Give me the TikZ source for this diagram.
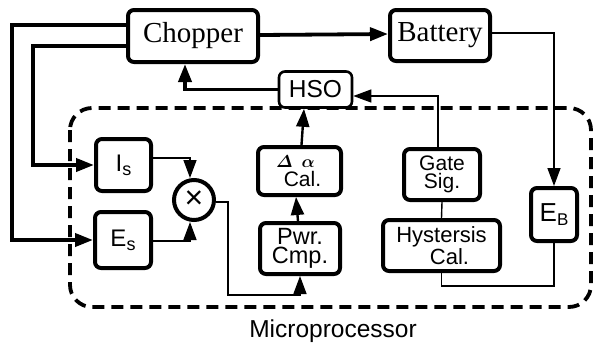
\documentclass[tikz,border=0pt]{standalone}
\usepackage{fontspec}
\setmainfont{Liberation Serif}
\setsansfont{Liberation Sans}
\usetikzlibrary{arrows.meta,calc}
\newcommand{\subtxt}[2]{\raisebox{-4pt}{\fontsize{#1}{#1}\selectfont #2}}
\begin{document}
\begin{tikzpicture}[x=1pt,y=-1pt,
  blk/.style={draw,line width=4pt,rounded corners=6pt,inner sep=0pt,align=center,font=\sffamily\fontsize{21}{18.5}\selectfont},
  sblk/.style={blk,font=\fontsize{29}{30}\selectfont},
  tip/.style={-{Triangle[length=18pt,width=13pt]}},
  thk/.style={line width=3.8pt,tip},
  med/.style={line width=2.4pt,tip},
  thn/.style={line width=1.4pt,tip},
  thnl/.style={line width=1.4pt}]
\useasboundingbox (0,0) rectangle (594,349);
% micro-processor frame
\draw[line width=3.8pt,dash pattern=on 12pt off 7pt,rounded corners=22pt] (70,108) rectangle (591,307);
\node[font=\sffamily\fontsize{24.5}{26}\selectfont] (mp) at (333,331) {Microprocessor};
% blocks
\node[sblk,minimum width=130pt,minimum height=52pt] (ch) at (193,36) {Chopper};
\node[sblk,minimum width=100pt,minimum height=51pt] (bat) at (440,35.5) {Battery};
\node[blk,line width=2.6pt,minimum width=73pt,minimum height=36pt,font=\sffamily\fontsize{24.5}{24}\selectfont] (hso) at (315.5,89.5) {HSO};
\node[blk,minimum width=55pt,minimum height=52pt,font=\sffamily\fontsize{24}{24}\selectfont] (is) at (123.5,165) {I\subtxt{18}{s}};
\node[blk,minimum width=56pt,minimum height=56pt,font=\sffamily\fontsize{24}{24}\selectfont] (es) at (123,240) {E\subtxt{18}{s}};
\node[draw,circle,line width=4pt,minimum size=40pt,inner sep=0pt,font=\sffamily\fontsize{32}{32}\selectfont] (mul) at (194,200) {×};
\node[blk,minimum width=83pt,minimum height=48pt] (dal) at (299.5,171) {\hspace*{-8pt}{\fontsize{16}{16}\selectfont\boldmath$\mathnormal{\Delta}\;\,\alpha$}\\[1pt]{}\hspace{6pt}Cal.};
\node[blk,minimum width=80pt,minimum height=51pt,font=\sffamily\fontsize{23.5}{18.5}\selectfont] (pwr) at (300,248.5) {Pwr.\\Cmp.};
\node[blk,minimum width=76pt,minimum height=51pt] (gate) at (442,174.5) {Gate\\Sig.};
\node[blk,minimum width=117pt,minimum height=51pt,font=\sffamily\fontsize{22}{18.5}\selectfont] (hys) at (441.5,245.5) {Hystersis\\{}\hspace{16pt}Cal.};
\node[blk,minimum width=46pt,minimum height=53pt,font=\sffamily\fontsize{26}{24}\selectfont] (eb) at (554,214.5) {E\subtxt{17}{B}};
% connectors
\draw[thk] ([yshift=1pt]ch.east) -- ([yshift=1.5pt]bat.west);
\draw[thk] ([yshift=11pt]ch.west) -- ++(-114,0) |- (es.west);
\draw[thk] ([yshift=-10pt]ch.west) -- ++(-93,0) |- (is.west);
\draw[thk] (hso.west) -| ([xshift=-8pt]ch.south);
\draw[thn] ([xshift=-4pt]gate.north) |- ([yshift=-6.5pt]hso.east);
\draw[med] ([xshift=2pt]dal.north) -- ([xshift=-11.5pt]hso.south);
\draw[med] ([xshift=-2pt]pwr.north) -- ([xshift=-3.5pt]dal.south);
\draw[thn] ([yshift=7pt]is.east) -| ([xshift=-4pt]mul.north);
\draw[thn] ([yshift=-1pt]es.east) -| ([xshift=-4pt]mul.south);
\draw[thn] ([yshift=-2pt]mul.east) -- ++(12,0) -- ++(0,93) -| (pwr.south);
\draw[thn] ([yshift=2.5pt]bat.east) -| (eb.north);
\draw[thnl] (eb.south) -- ++(0,43) -| (hys.south);
\draw[thnl] (gate.south) -- (hys.north);
\end{tikzpicture}
\end{document}
